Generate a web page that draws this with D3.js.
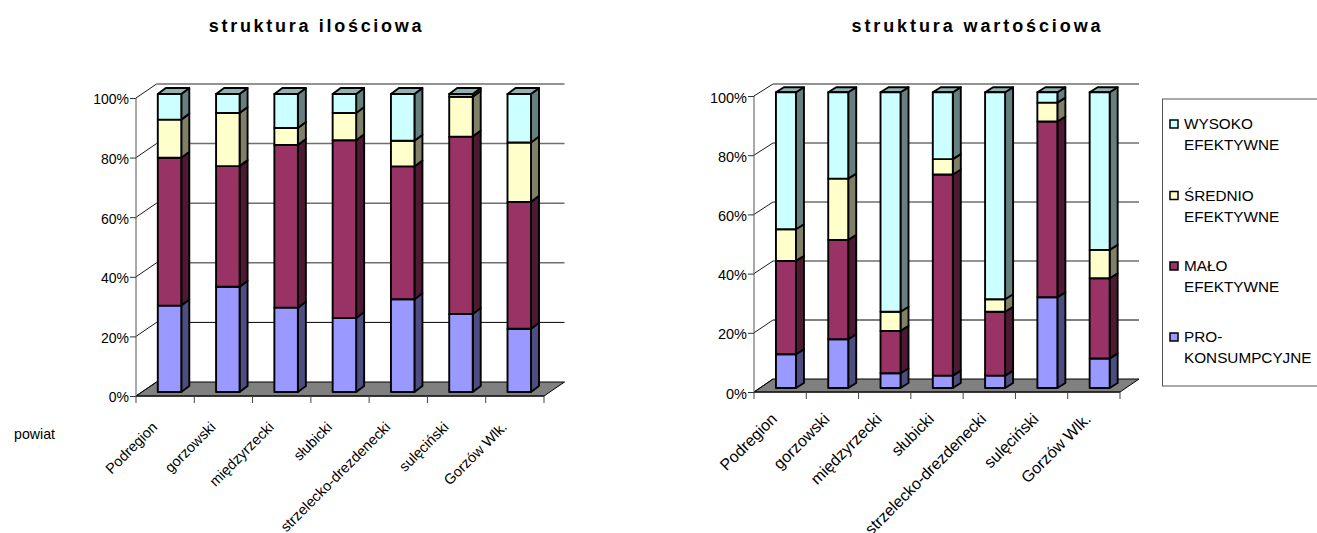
<!DOCTYPE html>
<html><head><meta charset="utf-8">
<script src="https://cdn.jsdelivr.net/npm/d3@7"></script>
<style>html,body{margin:0;padding:0;background:#fff}svg{display:block}text{font-family:"Liberation Sans",Arial,sans-serif;fill:#000}</style>
</head><body><svg id="c" width="1317" height="533"></svg>
<script>
const categories = ["Podregion","gorzowski","międzyrzecki","słubicki","strzelecko-drezdenecki","sulęciński","Gorzów Wlk."];
const seriesKeys = ["pro","malo","srednio","wysoko"];
const tickValues = [0,20,40,60,80,100];
const legendLabels = [["WYSOKO","EFEKTYWNE"],["ŚREDNIO","EFEKTYWNE"],["MAŁO","EFEKTYWNE"],["PRO-","KONSUMPCYJNE"]];
const faceColors = ["#9999FF","#993366","#FFFFCC","#CCFFFF"];
const sideColors = ["#4D4D80","#4D1933","#808066","#668080"];
const topColors  = ["#6B6BB3","#6B2447","#B3B38F","#8FB3B3"];

const leftPro     = [29,35.3,28.3,24.8,31.1,26.2,21.2];
const leftMalo    = [49.6,40.5,54.6,59.7,44.6,59.5,42.6];
const leftSrednio = [12.8,17.8,5.7,9.1,8.6,13.4,19.9];
const leftWysoko  = [8.6,6.4,11.4,6.4,15.7,0.9,16.3];
const rightPro     = [11.4,16.5,5,4.2,4.2,30.7,10];
const rightMalo    = [31.6,33.6,14.3,68,21.6,59.4,27.1];
const rightSrednio = [10.7,20.7,6.5,5.2,4.2,6.4,9.6];
const rightWysoko  = [46.3,29.2,74.2,22.6,70,3.5,53.3];

const svg = d3.select("#c");
const rows = (a,b,c,d)=>categories.map((k,i)=>({k,pro:a[i],malo:b[i],srednio:c[i],wysoko:d[i]}));

function chart(o){
  const g = svg.append("g");
  const x = d3.scaleBand().domain(categories).range([o.x0,o.x1]);
  const yFront = d3.scaleLinear().domain([0,100]).range([o.yF0,o.yF1]);
  const yBack  = d3.scaleLinear().domain([0,100]).range([o.yB0,o.yB1]);
  const yBar   = d3.scaleLinear().domain([0,100]).range([o.yBar0,o.yBar1]);
  const dx = o.dx, xb = o.x0+dx, xe = o.x1+dx;

  // floor
  g.append("polygon").attr("points",[[o.x0,o.yF0],[xb,o.yB0],[xe,o.yB0],[o.x1,o.yF0]].join(" "))
    .attr("fill","#808080").attr("stroke","#000").attr("stroke-width",1);
  g.append("line").attr("x1",o.x0).attr("x2",o.x1).attr("y1",o.yF0).attr("y2",o.yF0).attr("stroke","#222").attr("stroke-width",1.6);

  // gridlines on wall
  tickValues.forEach(v=>{
    const st = v>=40 ? {c:"#6f6f6f",w:1.5} : {c:"#000",w:1};
    if(v>0) g.append("line").attr("x1",xb).attr("x2",xe).attr("y1",yBack(v)).attr("y2",yBack(v)).attr("stroke",st.c).attr("stroke-width",st.w);
    g.append("line").attr("x1",o.x0).attr("y1",yFront(v)).attr("x2",xb).attr("y2",yBack(v)).attr("stroke","#000").attr("stroke-width",.9);
  });

  // y axis
  const ay = g.append("g").attr("transform",`translate(${o.x0},0)`)
    .call(d3.axisLeft(yFront).tickValues(tickValues).tickFormat(d=>d+"%").tickSize(6).tickPadding(1));
  ay.selectAll("path").attr("stroke","#555").attr("d",`M0,${yFront(100)}V${yFront(0)}`);
  ay.selectAll("line").attr("stroke","#333");
  ay.selectAll("text").attr("font-size",o.fs).attr("fill","#000").style("font-family",'"Liberation Sans"').attr("dy","0.42em");

  // x ticks
  [...categories.map(c=>x(c)),o.x1].forEach(px=>{
    g.append("line").attr("x1",px).attr("x2",px).attr("y1",o.yF0).attr("y2",o.yF0+7).attr("stroke","#444");
  });

  // bars
  const stacked = d3.stack().keys(seriesKeys)(o.data);
  const bw = o.barW, ddx = o.ddx, ddy = o.ddy;
  categories.forEach((c,i)=>{
    const bx = x(c)+(x.bandwidth()-bw)/2+o.shift;
    stacked.forEach((s,si)=>{
      const t = yBar(s[i][1]), b = yBar(s[i][0]);
      const gg = g.append("g").attr("stroke","#000").attr("stroke-width",1.9).attr("stroke-linejoin","round");
      gg.append("polygon").attr("points",[[bx+bw,t],[bx+bw+ddx,t-ddy],[bx+bw+ddx,b-ddy],[bx+bw,b]].join(" ")).attr("fill",sideColors[si]);
      if(si===3) gg.append("polygon").attr("points",[[bx,t],[bx+ddx,t-ddy],[bx+bw+ddx,t-ddy],[bx+bw,t]].join(" ")).attr("fill",topColors[si]);
      gg.append("rect").attr("x",bx).attr("y",t).attr("width",bw).attr("height",b-t).attr("fill",faceColors[si]);
    });
    // category label
    g.append("text").attr("transform",`translate(${x(c)+x.bandwidth()/2+o.labDx},${o.labY}) rotate(-45)`)
      .attr("text-anchor","end").attr("font-size",o.labFs).text(c);
  });

  g.append("text").attr("x",o.titleX).attr("y",32).attr("font-size",18).attr("font-weight","bold")
    .attr("letter-spacing",o.titleLs).attr("text-anchor","middle").text(o.title);
}

chart({title:"struktura ilościowa",titleX:316.5,titleLs:2.7,data:rows(leftPro,leftMalo,leftSrednio,leftWysoko),
  x0:136,x1:544,dx:20.5,yF0:396,yF1:98,yB0:382,yB1:84,yBar0:392,yBar1:94,barW:23.5,shift:4.4,ddx:8,ddy:6,fs:14,labFs:14.5,labDx:-7,labY:428});
chart({title:"struktura wartościowa",titleX:977.5,titleLs:2.9,data:rows(rightPro,rightMalo,rightSrednio,rightWysoko),
  x0:754,x1:1120,dx:19,yF0:392,yF1:96,yB0:379,yB1:84,yBar0:388,yBar1:92.3,barW:20,shift:5.8,ddx:8,ddy:5,fs:14.5,labFs:16,labDx:-2,labY:420});

svg.append("text").attr("x",14).attr("y",439).attr("font-size",14.2).text("powiat");

// legend
svg.append("rect").attr("x",1162.5).attr("y",99).attr("width",160).attr("height",287).attr("fill","#fff").attr("stroke","#555").attr("stroke-width",1);
const legendBase = [129,200.5,271,342];
legendLabels.forEach((l,i)=>{
  svg.append("rect").attr("x",1170).attr("y",legendBase[i]-9).attr("width",8).attr("height",8)
    .attr("fill",faceColors[3-i]).attr("stroke","#000").attr("stroke-width",1.5);
  l.forEach((t,j)=>svg.append("text").attr("x",1184).attr("y",legendBase[i]+j*21.3).attr("font-size",15.3).text(t));
});
</script></body></html>
